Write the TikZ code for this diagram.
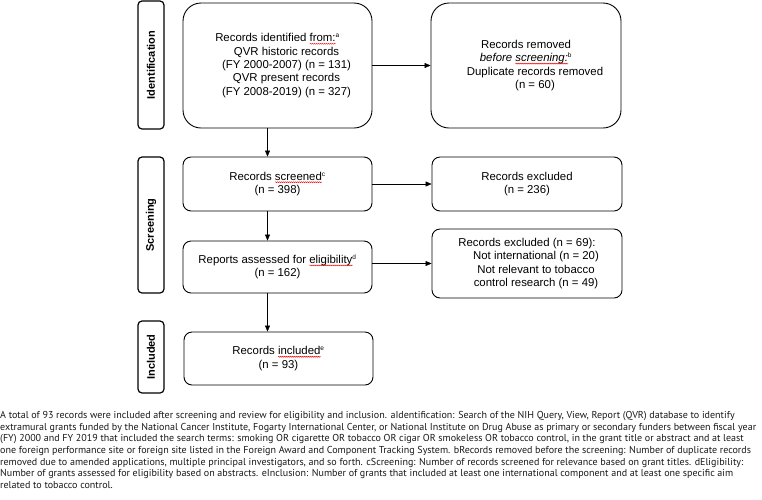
\documentclass[tikz,border=0pt]{standalone}
\usepackage{fontspec}
\setmainfont{Liberation Sans}
\newfontfamily\capfont{PT Sans}
\usetikzlibrary{arrows.meta, positioning, decorations.pathmorphing}

% red spell-check squiggle under a word
\newlength\sqlen
\newcommand\squig[1]{\settowidth\sqlen{#1}\leavevmode\rlap{\smash{\raisebox{-2.6pt}{\tikz[x=1pt, y=1pt, sharp corners]
  \draw[red, sharp corners, line width=0.45pt, decorate, decoration={zigzag, amplitude=0.5pt, segment length=2pt}] (0,0) -- (\the\sqlen,0);}}}#1}
\newcommand\note[1]{\textsuperscript{\fontsize{6.5}{7}\selectfont#1}}
\newcommand\ind{\hspace*{18pt}}

\begin{document}
\begin{tikzpicture}[
  x=1pt, y=-1pt, >={Triangle[length=6pt, width=5pt]},
  stage/.style={draw, line width=1.2pt, rounded corners=4pt, rotate=90,
    minimum height=26pt, inner sep=0pt, font=\bfseries\fontsize{11}{13}\selectfont},
  box/.style={draw, line width=0.9pt, rounded corners=8pt, minimum width=189pt,
    align=center, inner sep=2pt, font=\fontsize{11.4}{13.3}\selectfont},
  bigbox/.style={box, rounded corners=18pt, minimum height=125pt}
]
  \useasboundingbox (0,0) rectangle (762,499);

  % stages
  \node[stage, minimum width=128pt] (ident) at (151,65) {Identification};
  \node[stage, minimum width=136pt] (screen) at (151,225) {Screening};
  \node[stage, minimum width=72pt] (incl) at (151,357) {Included};

  % left column
  \node[bigbox] (found) at (277.5,65.5) {Records identified \squig{from:}\note{a}\\
    \ind QVR historic records\\ \ind (FY 2000-2007) (n = 131)\\ \ind QVR present records\\ \ind (FY 2008-2019) (n = 327)};
  \node[box, minimum height=54pt] (scr) at (277.5,184) {Records \squig{screened}\note{c}\\ (n = 398)};
  \node[box, minimum height=52pt] (elig) at (277.5,267) {Reports assessed for \squig{eligibility}\note{d}\\ (n = 162)};
  \node[box, minimum height=53pt] (inc) at (278.5,358.5) {Records \squig{included}\note{e}\\ (n = 93)};

  % right column
  \node[bigbox, minimum width=190pt] (dup) at (526,65.5) {Records removed\\
    \textit{before \squig{screening:}}\note{b}\\ \ind Duplicate records removed\\ \ind (n = 60)};
  \node[box, minimum width=190pt, minimum height=54pt] (exc) at (527,184) {Records excluded\\ (n = 236)};
  \node[box, minimum width=190pt, minimum height=69pt] (exc2) at (527,263.5) {Records excluded (n = 69):\\
    \ind Not international (n = 20)\\ \ind Not relevant to tobacco\\ \ind control research (n = 49)};

  \draw[->] ([xshift=-10pt]found.south) -- ([xshift=-10pt]scr.north);
  \draw[->] ([xshift=-10pt]scr.south) -- ([xshift=-10pt]elig.north);
  \draw[->] ([xshift=-10pt]elig.south) -- ([xshift=-10pt]elig.south |- inc.north);
  \draw[->] (found.east) -- (dup.west);
  \draw[->] (scr.east) -- (exc.west);
  \draw[->] (elig.east |- exc2.west) -- (exc2.west);

  % caption
  \node[anchor=north west, inner sep=0pt, align=left, text=black!90,
    font=\capfont\fontsize{10.05}{11.67}\selectfont] (caption) at (0,411) {%
    A total of 93 records were included after screening and review for eligibility and inclusion. aIdentification: Search of the NIH Query, View, Report (QVR) database to identify\\
    extramural grants funded by the National Cancer Institute, Fogarty International Center, or National Institute on Drug Abuse as primary or secondary funders between fiscal year\\
    (FY) 2000 and FY 2019 that included the search terms: smoking OR cigarette OR tobacco OR cigar OR smokeless OR tobacco control, in the grant title or abstract and at least\\
    one foreign performance site or foreign site listed in the Foreign Award and Component Tracking System. bRecords removed before the screening: Number of duplicate records\\
    removed due to amended applications, multiple principal investigators, and so forth. cScreening: Number of records screened for relevance based on grant titles. dEligibility:\\
    Number of grants assessed for eligibility based on abstracts. eInclusion: Number of grants that included at least one international component and at least one specific aim\\
    related to tobacco control.};
\end{tikzpicture}
\end{document}
